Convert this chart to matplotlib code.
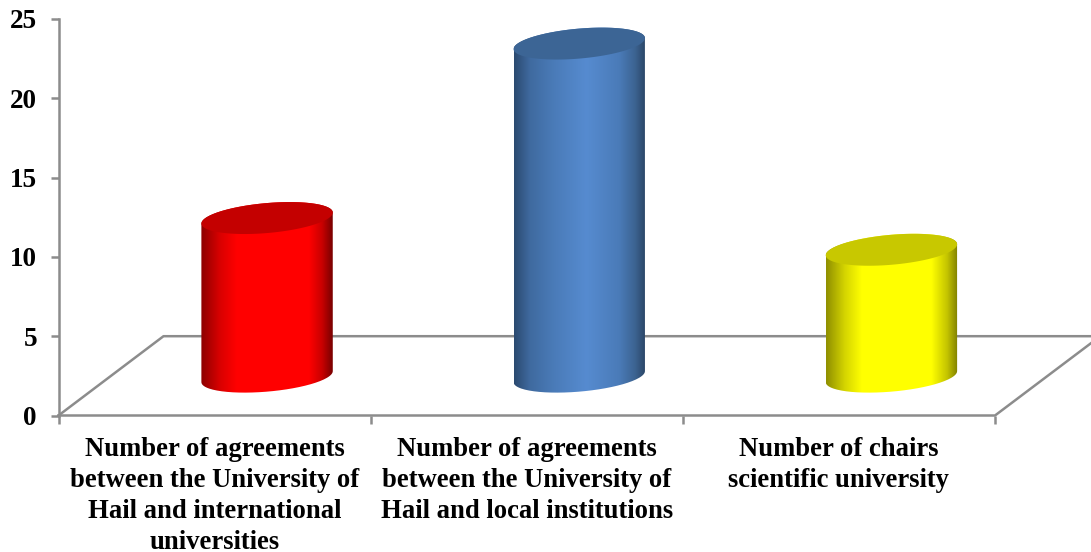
import numpy as np
import matplotlib
matplotlib.use('Agg')
import matplotlib.pyplot as plt
from matplotlib.path import Path
from matplotlib.patches import PathPatch
from matplotlib.colors import LinearSegmentedColormap

categories = ['Number of agreements\nbetween the University of\nHail and international\nuniversities',
              'Number of agreements\nbetween the University of\nHail and local institutions',
              'Number of chairs\nscientific university']
values = [10, 21, 8]
yticks = [0, 5, 10, 15, 20, 25]
body_stops = [
    [(0, '#8c0000'), (0.14, '#d80000'), (0.27, '#ff0000'), (0.82, '#ff0000'), (0.92, '#c80000'), (1, '#780000')],
    [(0, '#2b4a70'), (0.12, '#3f6a9f'), (0.30, '#4a7bb8'), (0.55, '#568bd0'), (0.80, '#4a7bb8'), (0.92, '#3c6391'), (1, '#2a4565')],
    [(0, '#8f8f00'), (0.14, '#d4d400'), (0.27, '#ffff00'), (0.80, '#ffff00'), (0.92, '#c4c400'), (1, '#808000')],
]
top_col = ['#c40000', '#3c6595', '#c8c800']

W, H = 1091, 552
plt.rcParams['font.family'] = ['Liberation Serif', 'DejaVu Serif']
fig = plt.figure(figsize=(W/100, H/100), dpi=100, facecolor='white')
x0, x3, y0, y25, xr = 58.5, 995.0, 415.5, 19.0, 1091.0
ax = fig.add_axes([x0/W, 1-y0/H, (xr-x0)/W, (y0-y25)/H])
ux = (x3-x0)/3
uy = (y0-y25)/25
xmax = (xr-x0)/ux
ax.set_xlim(0, xmax)
ax.set_ylim(0, 25)
ax.patch.set_alpha(0)
for s_ in ('top', 'right', 'bottom'):
    ax.spines[s_].set_visible(False)
grey = '#8c8c8c'
lw = 1.8
ax.spines['left'].set_color(grey)
ax.spines['left'].set_linewidth(lw)
ax.set_yticks(yticks)
ax.tick_params(axis='y', length=5.5, width=lw, color=grey, pad=10, labelsize=19.5)
ax.set_xticks([0, 1, 2, 3])
ax.set_xticklabels([])
ax.tick_params(axis='x', length=6, width=lw, color=grey)
for t_ in ax.get_yticklabels():
    t_.set_fontweight('bold')

# floor
dx, dy = 105/ux, 5.0
ax.plot([0, 3, xmax], [0, 0, 4.56], color=grey, lw=lw, clip_on=False, solid_joinstyle='miter', zorder=2)
ax.plot([0, dx, xmax], [0, dy, dy], color=grey, lw=lw, clip_on=False, zorder=2)

# cylinders
a = 65.7/ux
b = 15.0/uy
s = 5.5/uy
base = 2.45
centres = [i + 0.5 + 52.5/ux for i in range(3)]
t = np.linspace(0, 2*np.pi, 181)
for i, v in enumerate(values):
    cx = centres[i]
    ex = a*np.cos(t)
    ey = b*np.sin(t) + s*np.cos(t)
    tb = np.linspace(np.pi, 2*np.pi, 90)
    xs_low = cx + a*np.cos(tb)
    ys_low = base + b*np.sin(tb) + s*np.cos(tb)
    tt = np.linspace(0, np.pi, 90)
    xs_up = cx + a*np.cos(tt)
    ys_up = base + v + b*np.sin(tt) + s*np.cos(tt)
    verts = np.r_[np.c_[xs_low, ys_low], np.c_[xs_up, ys_up], [[xs_low[0], ys_low[0]]]]
    cmap = LinearSegmentedColormap.from_list('c', body_stops[i])
    grad = np.linspace(0, 1, 256)[None, :]
    im = ax.imshow(grad, cmap=cmap, extent=(cx-a, cx+a, base-b-s, base+v+b+s),
                   aspect='auto', zorder=3, interpolation='bilinear')
    patch = PathPatch(Path(verts), transform=ax.transData, fc='none', ec='none')
    ax.add_patch(patch)
    im.set_clip_path(patch)
    ax.fill(cx+ex, base+v+ey, color=top_col[i], lw=0, zorder=4)

ax.set_xlim(0, xmax)
ax.set_ylim(0, 25)

for i, c in enumerate(categories):
    ax.annotate(c, xy=(i+0.5, 0), xytext=(0, -15.4), textcoords='offset points',
                ha='center', va='top', fontsize=19.2, fontweight='bold',
                linespacing=1.325, annotation_clip=False)

fig.savefig('out.png', dpi=100)
